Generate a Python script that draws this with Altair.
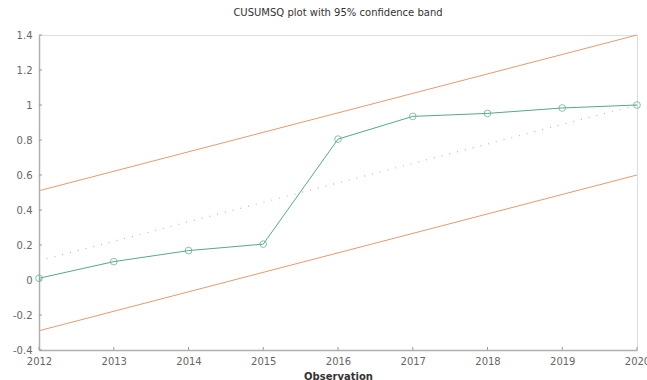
import altair as alt
import pandas as pd

# CUSUMSQ statistic by observation year
years = [2012, 2013, 2014, 2015, 2016, 2017, 2018, 2019, 2020]
cusumsq = [0.01, 0.105, 0.168, 0.205, 0.805, 0.935, 0.952, 0.983, 1.0]

# 95% confidence band and expected path (straight lines, endpoints)
band_years = [2012, 2020]
upper = [0.51, 1.40]
lower = [-0.29, 0.60]
expected = [0.11, 1.00]

x_ticks = years
y_ticks = [-0.4, -0.2, 0.0, 0.2, 0.4, 0.6, 0.8, 1.0, 1.2, 1.4]

GREEN = "#55a98b"
ORANGE = "#e49a70"
FONT = "DejaVu Sans"

stat_df = pd.DataFrame({"year": years, "value": cusumsq})
band_df = pd.DataFrame(
    {
        "year": band_years * 2,
        "value": upper + lower,
        "bound": ["upper"] * 2 + ["lower"] * 2,
    }
)
exp_df = pd.DataFrame({"year": band_years, "value": expected})
xt_df = pd.DataFrame({"year": x_ticks})
yt_df = pd.DataFrame({"value": y_ticks})

x_scale = alt.Scale(domain=[2012, 2020], nice=False, zero=False)
y_scale = alt.Scale(domain=[-0.4, 1.4], nice=False, zero=False)

x_axis = alt.Axis(
    values=x_ticks,
    format="d",
    title="Observation",
    tickSize=0,
    grid=False,
    domainColor="#b0b0b0",
    domainWidth=1.5,
    labelFont=FONT,
    labelFontSize=10,
    labelColor="#666666",
    labelPadding=6,
    labelFlush=False,
    labelOverlap=False,
    titleFont=FONT,
    titleFontSize=10,
    titleFontWeight="bold",
    titleColor="#333333",
    titlePadding=5,
)
y_axis = alt.Axis(
    values=y_ticks,
    labelExpr="replace(format(datum.value, '.1~f'), '\u2212', '-')",
    title=None,
    tickSize=0,
    grid=False,
    domainColor="#b0b0b0",
    domainWidth=1.5,
    labelFont=FONT,
    labelFontSize=10,
    labelColor="#666666",
    labelPadding=7,
    labelFlush=False,
    labelOverlap=False,
    labelBound=False,
)


def xy():
    return dict(
        x=alt.X("year:Q", scale=x_scale, axis=x_axis),
        y=alt.Y("value:Q", scale=y_scale, axis=y_axis),
    )


band = (
    alt.Chart(band_df)
    .mark_line(color=ORANGE, strokeWidth=1)
    .encode(detail="bound:N", **xy())
)

exp_line = (
    alt.Chart(exp_df)
    .mark_line(color=ORANGE, strokeWidth=1.2, strokeDash=[1, 7], opacity=0.8)
    .encode(**xy())
)

stat_line = alt.Chart(stat_df).mark_line(color=GREEN, strokeWidth=1).encode(**xy())

stat_pts = (
    alt.Chart(stat_df)
    .mark_point(shape="circle", filled=False, color=GREEN, size=45, strokeWidth=1)
    .encode(**xy())
)

# short inward tick marks on both axes
x_tick_marks = (
    alt.Chart(xt_df)
    .mark_rule(color="#9a9a9a", strokeWidth=1)
    .encode(
        x=alt.X("year:Q", scale=x_scale, axis=x_axis),
        y=alt.value(315),
        y2=alt.value(312),
    )
)
y_tick_marks = (
    alt.Chart(yt_df)
    .mark_rule(color="#9a9a9a", strokeWidth=1)
    .encode(
        y=alt.Y("value:Q", scale=y_scale, axis=y_axis),
        x=alt.value(0),
        x2=alt.value(3),
    )
)

chart = (
    alt.layer(band, exp_line, stat_line, stat_pts, x_tick_marks, y_tick_marks)
    .properties(
        width=598,
        height=315,
        title=alt.Title(
            "CUSUMSQ plot with 95% confidence band",
            font=FONT,
            fontSize=10,
            fontWeight="normal",
            color="#333333",
            anchor="middle",
            offset=12,
        ),
        autosize=alt.AutoSizeParams(type="none"),
        padding={"left": 39, "top": 35, "right": 10, "bottom": 30},
    )
    .configure_view(stroke=None)
    .configure(background="white")
)

chart.save("out.html", embed_options={"renderer": "svg", "actions": False})
